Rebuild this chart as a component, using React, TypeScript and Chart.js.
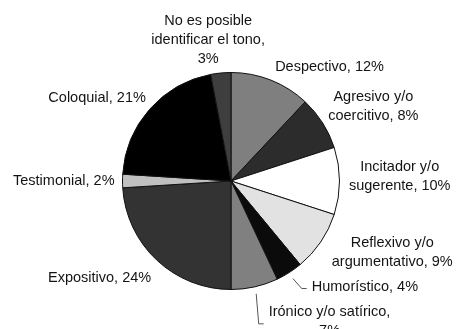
import React, { useEffect, useRef } from "react";
import { Chart, registerables } from "chart.js";

Chart.register(...registerables);

// Tone categories, clockwise from 12 o'clock
const categories = [
  "Despectivo",
  "Agresivo y/o coercitivo",
  "Incitador y/o sugerente",
  "Reflexivo y/o argumentativo",
  "Humorístico",
  "Irónico y/o satírico",
  "Expositivo",
  "Testimonial",
  "Coloquial",
  "No es posible identificar el tono",
];

// Share of each tone, in percent
const shares = [12, 8, 10, 9, 4, 7, 24, 2, 21, 3];

const sliceColors = [
  "#7f7f7f",
  "#2c2c2c",
  "#ffffff",
  "#e2e2e2",
  "#0b0b0b",
  "#808080",
  "#333333",
  "#c0c0c0",
  "#000000",
  "#3e3e3e",
];

// Label block centres relative to the pie centre (px at a 109px radius)
const labelOffsets: [number, number][] = [
  [99, -115],
  [143, -75],
  [169.5, -5],
  [162, 71.5],
  [134.5, 106],
  [99, 141.5],
  [-132, 97],
  [-168, 0],
  [-134.5, -83],
  [-23, -142],
];

// Maximum line width used when wrapping each label
const labelWrapWidths = [200, 100, 112, 130, 200, 132, 200, 200, 200, 128];

// Labels that get a leader line back to their slice
const withLeader = [false, false, false, false, true, true, false, false, false, false];

const FONT = "14.5px 'Liberation Sans', Arial, sans-serif";
const LINE_H = 19;
const TEXT_COLOR = "#141414";

function wrap(ctx: CanvasRenderingContext2D, text: string, maxW: number): string[] {
  const words = text.split(" ");
  const lines: string[] = [];
  let cur = "";
  for (const w of words) {
    const next = cur ? cur + " " + w : w;
    if (cur && ctx.measureText(next).width > maxW) {
      lines.push(cur);
      cur = w;
    } else {
      cur = next;
    }
  }
  if (cur) lines.push(cur);
  return lines;
}

const sliceLabels = {
  id: "sliceLabels",
  afterDatasetsDraw(chart: any) {
    const ctx: CanvasRenderingContext2D = chart.ctx;
    const meta = chart.getDatasetMeta(0);
    ctx.save();
    ctx.font = FONT;
    ctx.textAlign = "center";
    ctx.textBaseline = "middle";
    meta.data.forEach((arc: any, i: number) => {
      const { x, y, outerRadius, startAngle, endAngle } = arc.getProps(
        ["x", "y", "outerRadius", "startAngle", "endAngle"],
        true
      );
      const k = outerRadius / 109;
      const cx = x + labelOffsets[i][0] * k;
      const cy = y + labelOffsets[i][1] * k;
      const text = `${categories[i]}, ${shares[i]}%`;
      const lines = wrap(ctx, text, labelWrapWidths[i]);
      const maxW = Math.max(...lines.map((l) => ctx.measureText(l).width));

      if (withLeader[i]) {
        const mid = (startAngle + endAngle) / 2;
        const sx = x + Math.cos(mid) * (outerRadius + 7);
        const sy = y + Math.sin(mid) * (outerRadius + 7);
        const ex = cx - maxW / 2 - 5;
        const ey = cy + 2;
        ctx.beginPath();
        ctx.strokeStyle = "#555555";
        ctx.lineWidth = 1;
        ctx.moveTo(sx, sy);
        ctx.lineTo(ex - 5, ey);
        ctx.lineTo(ex, ey);
        ctx.stroke();
      }

      ctx.fillStyle = TEXT_COLOR;
      lines.forEach((line, j) => {
        const ly = cy + (j - (lines.length - 1) / 2) * LINE_H;
        ctx.fillText(line, cx, ly);
      });
    });
    ctx.restore();
  },
};

export default function App() {
  const canvasRef = useRef<HTMLCanvasElement | null>(null);

  useEffect(() => {
    if (!canvasRef.current) return;
    const chart = new Chart(canvasRef.current, {
      type: "pie",
      data: {
        labels: categories,
        datasets: [
          {
            data: shares,
            backgroundColor: sliceColors,
            borderColor: "#111111",
            borderWidth: 1,
          },
        ],
      },
      options: {
        responsive: false,
        animation: false,
        layout: { padding: { left: 122, right: 116, top: 72, bottom: 39 } },
        plugins: {
          legend: { display: false },
          tooltip: { enabled: false },
        },
      },
      plugins: [sliceLabels],
    });
    return () => chart.destroy();
  }, []);

  return (
    <div style={{ position: "absolute", left: 0, top: 0, width: 456, height: 329, background: "#ffffff" }}>
      <canvas ref={canvasRef} width={456} height={329} />
    </div>
  );
}
